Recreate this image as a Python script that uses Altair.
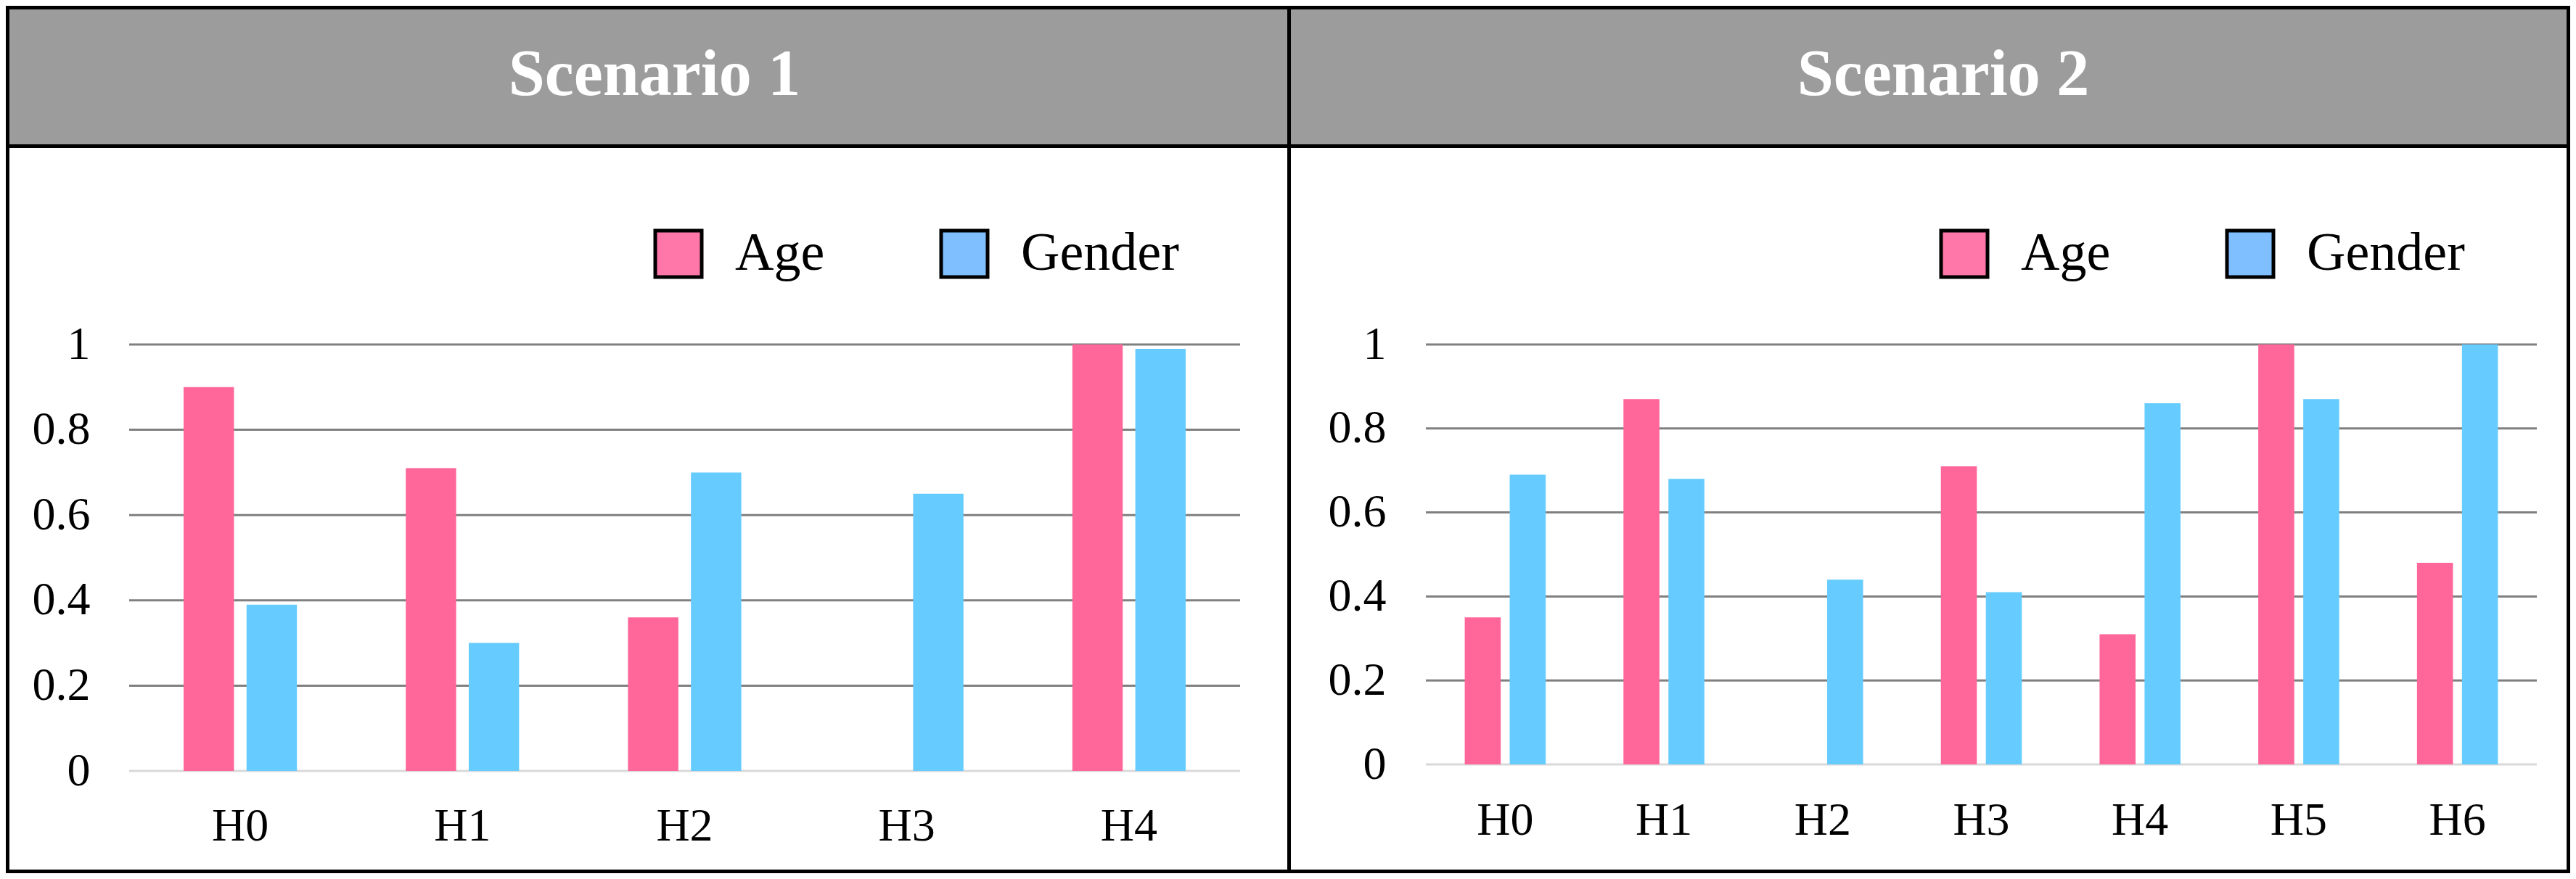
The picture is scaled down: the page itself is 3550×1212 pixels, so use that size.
import altair as alt
import pandas as pd

# ---- data ----
series = ["Age", "Gender"]
series_colors = ["#FF6699", "#66CCFF"]        # bars
legend_colors = ["#FF77A8", "#80BFFF"]        # legend swatches

titles = ["Scenario 1", "Scenario 2"]

categories1 = ["H0", "H1", "H2", "H3", "H4"]
age1 = [0.90, 0.71, 0.36, 0.0, 1.00]
gender1 = [0.39, 0.30, 0.70, 0.65, 0.99]

categories2 = ["H0", "H1", "H2", "H3", "H4", "H5", "H6"]
age2 = [0.35, 0.87, 0.0, 0.71, 0.31, 1.00, 0.48]
gender2 = [0.69, 0.68, 0.44, 0.41, 0.86, 0.87, 1.00]

y_ticks = [0, 0.2, 0.4, 0.6, 0.8, 1.0]
grid_values = [0.2, 0.4, 0.6, 0.8, 1.0]

FONT = "Liberation Serif"
PANEL_H = 1196
HEADER_TOP = 191
BW = 5  # border width


def border(x, x2, y, y2):
    return alt.Chart(pd.DataFrame({"b": [0]})).mark_rect(
        color="black", strokeWidth=0).encode(
        x=alt.value(x), x2=alt.value(x2), y=alt.value(y), y2=alt.value(y2))


def panel(title, cats, age, gender, width, plot_x, y_zero, y_top,
          legend_x, title_x, xlab_pad, ylab_pad, left_border):
    rows = []
    for c, a, g in zip(cats, age, gender):
        rows.append({"cat": c, "series": "Age", "value": a})
        rows.append({"cat": c, "series": "Gender", "value": g})
    df = pd.DataFrame(rows)
    grid_df = pd.DataFrame({"value": grid_values})
    zero_df = pd.DataFrame({"value": [0]})
    head_df = pd.DataFrame({"title": [title]})
    key_df = pd.DataFrame({"key": series})

    yscale = alt.Scale(domain=[0, 1], range=[y_zero, y_top], nice=False)
    yaxis = alt.Axis(values=y_ticks, format="~g", grid=False, domain=False,
                     ticks=False, tickSize=0, labelFont=FONT, labelFontSize=64,
                     labelColor="black", labelPadding=ylab_pad,
                     offset=-plot_x[0], title=None)
    xscale = alt.Scale(domain=cats, range=list(plot_x),
                       paddingInner=0.49, paddingOuter=0.245)
    xaxis = alt.Axis(orient="bottom", offset=y_zero - PANEL_H,
                     domain=False, ticks=False, tickSize=0,
                     labelFont=FONT, labelFontSize=64,
                     labelColor="black", labelPadding=xlab_pad,
                     labelAngle=0, title=None)
    xoff = alt.XOffset("series:N", sort=series,
                       scale=alt.Scale(domain=series, paddingInner=0.2,
                                       paddingOuter=0))

    header = alt.Chart(head_df).mark_rect(color="#9C9C9C", strokeWidth=0).encode(
        x=alt.value(0), x2=alt.value(width),
        y=alt.value(0), y2=alt.value(HEADER_TOP))
    head_text = alt.Chart(head_df).mark_text(
        font=FONT, fontSize=90, fontWeight="bold", color="white",
        align="center", baseline="alphabetic").encode(
        x=alt.value(title_x), y=alt.value(123), text="title:N")

    grid = alt.Chart(grid_df).mark_rule(color="#808080", strokeWidth=3).encode(
        y=alt.Y("value:Q", scale=yscale, axis=yaxis),
        x=alt.value(plot_x[0]), x2=alt.value(plot_x[1]))
    zero = alt.Chart(zero_df).mark_rule(color="#D9D9D9", strokeWidth=3).encode(
        y=alt.Y("value:Q", scale=yscale, axis=yaxis),
        x=alt.value(plot_x[0]), x2=alt.value(plot_x[1]))

    # bar fill scale takes its domain from the data (sorted), so its legend
    # (disabled) is not merged with the legend layer below
    bars = alt.Chart(df).mark_bar(strokeWidth=0).encode(
        x=alt.X("cat:N", sort=cats, scale=xscale, axis=xaxis),
        xOffset=xoff,
        y=alt.Y("value:Q", scale=yscale, axis=yaxis),
        fill=alt.Fill("series:N", sort=series,
                      scale=alt.Scale(range=series_colors),
                      legend=None),
    )

    # invisible layer that only provides the legend (reference swatch colours)
    legend_layer = alt.Chart(key_df).mark_square(opacity=0, size=1).encode(
        x=alt.value(width / 2), y=alt.value(PANEL_H / 2),
        color=alt.Color("key:N", sort=series,
                        scale=alt.Scale(domain=series, range=legend_colors),
                        legend=alt.Legend(
                            orient="none", legendX=legend_x, legendY=305,
                            direction="horizontal", title=None,
                            symbolType="square", symbolSize=4096,
                            symbolStrokeColor="black", symbolStrokeWidth=5,
                            symbolOpacity=1, labelLimit=0,
                            labelFont=FONT, labelFontSize=74,
                            labelColor="black", labelOffset=41,
                            columnPadding=150, padding=0)),
    )

    layers = [header, head_text, grid, zero, bars, legend_layer,
              border(0, width, HEADER_TOP, HEADER_TOP + BW),
              border(0, width, 0, BW),
              border(0, width, PANEL_H - BW, PANEL_H),
              border(width - BW, width, 0, PANEL_H)]
    if left_border:
        layers.append(border(0, BW, 0, PANEL_H))
    return alt.layer(*layers).properties(width=width, height=PANEL_H)


left = panel(titles[0], categories1, age1, gender1, width=1771,
             plot_x=(170, 1701), y_zero=1055, y_top=467,
             legend_x=890, title_x=894, xlab_pad=44, ylab_pad=54,
             left_border=True)
right = panel(titles[1], categories2, age2, gender2, width=1763,
              plot_x=(186, 1717), y_zero=1046, y_top=467,
              legend_x=891, title_x=899, xlab_pad=45, ylab_pad=55,
              left_border=False)

chart = alt.hconcat(left, right, spacing=0).resolve_scale(
    x="independent", y="independent", xOffset="independent",
    color="independent", fill="independent"
).configure_view(stroke=None).properties(padding=0, background="white")

chart.save("out.html", embed_options={"renderer": "svg", "actions": False})
